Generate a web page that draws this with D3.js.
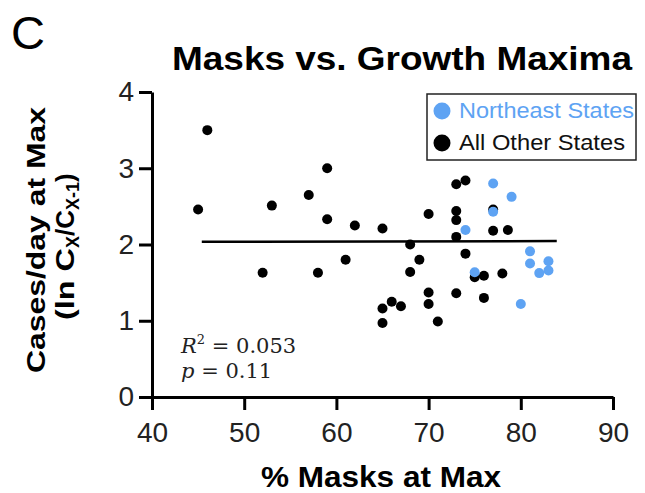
<!DOCTYPE html>
<html>
<head>
<meta charset="utf-8">
<script src="https://d3js.org/d3.v7.min.js"></script>
<style>
  body { margin: 0; background: #fff; }
  svg { display: block; font-family: "Liberation Sans", Arial, sans-serif; }
</style>
</head>
<body>
<div id="chart"></div>
<script>
// % masks at max vs. growth rate at max
const otherX = [45, 46, 52, 53, 57, 58, 59, 59, 61, 62, 65, 65, 65, 66, 67, 68, 68, 69, 70, 70, 70, 71, 73, 73, 73, 73, 73, 74, 74, 75, 76, 76, 77, 77, 78, 78.6];
const otherY = [2.46, 3.50, 1.63, 2.51, 2.65, 1.63, 3.00, 2.33, 1.80, 2.25, 2.21, 1.16, 0.97, 1.25, 1.19, 2.00, 1.64, 1.80, 2.40, 1.37, 1.22, 0.99, 2.79, 2.44, 2.32, 2.10, 1.36, 2.84, 1.88, 1.57, 1.59, 1.30, 2.46, 2.18, 1.62, 2.19];
const neX = [74, 75, 77, 77, 79, 80, 81, 81, 82, 83, 83];
const neY = [2.19, 1.635, 2.80, 2.43, 2.625, 1.22, 1.91, 1.75, 1.625, 1.78, 1.66];
const fitX = [45.4, 83.9];
const fitY = [2.035, 2.045];
const xTicks = [40, 50, 60, 70, 80, 90];
const yTicks = [0, 1, 2, 3, 4];
const legendLabels = ["Northeast States", "All Other States"];

const W = 645, H = 493;
const blue = "#5ea3f3";
const svg = d3.select("#chart").append("svg").attr("width", W).attr("height", H);

const x = d3.scaleLinear().domain([40, 90]).range([152, 613]);
const y = d3.scaleLinear().domain([0, 4]).range([397, 92]);

// panel letter + title
svg.append("text").attr("x", 11).attr("y", 49).attr("font-size", 47).text("C");
svg.append("text").attr("x", 172).attr("y", 70)
  .attr("font-size", 34).attr("font-weight", "bold")
  .attr("textLength", 460).attr("lengthAdjust", "spacingAndGlyphs")
  .text("Masks vs. Growth Maxima");

// axes
const xAxis = svg.append("g").attr("transform", `translate(0,${y(0)})`)
  .call(d3.axisBottom(x).tickValues(xTicks).tickSize(13).tickPadding(12).tickSizeOuter(0));
const yAxis = svg.append("g").attr("transform", `translate(${x(40)},0)`)
  .call(d3.axisLeft(y).tickValues(yTicks).tickFormat(d3.format("d")).tickSize(13).tickPadding(5).tickSizeOuter(0));
[xAxis, yAxis].forEach(g => {
  g.select(".domain").attr("stroke", "#000").attr("stroke-width", 3);
  g.selectAll(".tick line").attr("stroke", "#000").attr("stroke-width", 3);
  g.selectAll(".tick text").attr("font-size", 28).attr("fill", "#222")
    .attr("font-family", "'Liberation Sans', Arial, sans-serif");
});

// axis titles
svg.append("text").attr("x", 261).attr("y", 487)
  .attr("font-size", 30).attr("font-weight", "bold")
  .attr("textLength", 240).attr("lengthAdjust", "spacingAndGlyphs")
  .text("% Masks at Max");
const yl = svg.append("g").attr("transform", "translate(0,240) rotate(-90)");
yl.append("text").attr("x", -133).attr("y", 45)
  .attr("font-size", 26).attr("font-weight", "bold")
  .attr("textLength", 266).attr("lengthAdjust", "spacingAndGlyphs")
  .text("Cases/day at Max");
const yl2 = yl.append("text").attr("x", -80).attr("y", 74)
  .attr("font-size", 26).attr("font-weight", "bold");
yl2.append("tspan").attr("textLength", 72).attr("lengthAdjust", "spacingAndGlyphs").text("(ln C");
yl2.append("tspan").attr("font-size", 18).attr("dy", 5).text("X");
yl2.append("tspan").attr("dy", -5).text("/C");
yl2.append("tspan").attr("font-size", 18).attr("dy", 5).text("X-1");
yl2.append("tspan").attr("dy", -5).text(")");

// regression line
svg.append("line")
  .attr("x1", x(fitX[0])).attr("y1", y(fitY[0]))
  .attr("x2", x(fitX[1])).attr("y2", y(fitY[1]))
  .attr("stroke", "#000").attr("stroke-width", 2.5);

// points
const others = otherX.map((v, i) => [v, otherY[i]]);
const ne = neX.map((v, i) => [v, neY[i]]);
svg.append("g").selectAll("circle").data(others).join("circle")
  .attr("cx", d => x(d[0])).attr("cy", d => y(d[1])).attr("r", 5).attr("fill", "#000");
svg.append("g").selectAll("circle").data(ne).join("circle")
  .attr("cx", d => x(d[0])).attr("cy", d => y(d[1])).attr("r", 5).attr("fill", blue);

// stats
const st = svg.append("g").attr("font-family", "'DejaVu Serif', 'Liberation Serif', serif").attr("font-size", 21).attr("fill", "#222");
const r2 = st.append("text").attr("x", 181).attr("y", 353);
r2.append("tspan").attr("font-style", "italic").text("R");
r2.append("tspan").attr("font-size", 13).attr("dy", -9).text("2");
r2.append("tspan").attr("dy", 9).text(" = 0.053");
const pv = st.append("text").attr("x", 181).attr("y", 378);
pv.append("tspan").attr("font-style", "italic").text("p");
pv.append("tspan").text(" = 0.11");

// legend
const lg = svg.append("g");
lg.append("rect").attr("x", 427).attr("y", 94).attr("width", 209).attr("height", 66)
  .attr("fill", "#fff").attr("stroke", "#222").attr("stroke-width", 1.5);
legendLabels.forEach((lab, i) => {
  const cy = 111 + i * 32;
  lg.append("circle").attr("cx", 442).attr("cy", cy).attr("r", 8.5).attr("fill", i === 0 ? blue : "#000");
  lg.append("text").attr("x", 459).attr("y", cy + 7).attr("font-size", 22)
    .attr("textLength", i === 0 ? 175 : 166).attr("lengthAdjust", "spacingAndGlyphs")
    .attr("fill", i === 0 ? blue : "#111").text(lab);
});
</script>
</body>
</html>
